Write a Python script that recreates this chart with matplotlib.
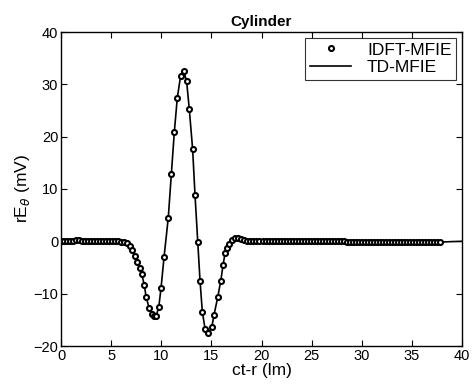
import matplotlib
matplotlib.use("Agg")
import matplotlib.pyplot as plt

plt.rcParams['font.family'] = ['Liberation Sans', 'DejaVu Sans']

# IDFT-MFIE samples
x_start = [0.0, 0.3, 0.6, 0.9, 1.2, 1.5, 1.8, 2.1, 2.4, 2.7, 3.0, 3.3, 3.6, 3.9,
           4.2, 4.5, 4.8, 5.1, 5.4, 5.7, 6.0, 6.3]
y_start = [0.05, 0.1, 0.1, 0.15, 0.15, 0.2, 0.2, 0.15, 0.15, 0.1, 0.1, 0.1, 0.1, 0.1,
           0.1, 0.05, 0.05, 0.05, 0.0, 0.0, -0.1, -0.2]

x_pulse = [6.6, 6.85, 7.1, 7.35, 7.62, 7.85, 8.05, 8.3, 8.5, 8.8, 9.05, 9.28, 9.48,
           9.75, 9.98, 10.28, 10.7, 11.0, 11.3, 11.6, 11.93, 12.23, 12.53, 12.8,
           13.13, 13.37, 13.64, 13.87, 14.1, 14.37, 14.7, 15.04, 15.27, 15.64,
           15.94, 16.17, 16.37, 16.6, 16.8, 17.1, 17.4, 17.7, 18.0, 18.3, 18.6, 18.9]
y_pulse = [-0.4, -0.9, -1.7, -2.8, -4.0, -5.0, -6.2, -8.3, -10.7, -12.8, -13.8, -14.2,
           -14.3, -12.6, -8.9, -3.0, 4.5, 12.8, 20.8, 27.4, 31.6, 32.6, 30.6, 25.2,
           17.6, 8.8, -0.1, -7.6, -13.5, -16.7, -17.5, -16.4, -14.0, -10.6,
           -7.5, -4.5, -2.2, -1.2, -0.6, 0.2, 0.6, 0.7, 0.5, 0.3, 0.15, 0.1]

x_tail = [19.2, 19.5, 19.8, 20.1, 20.4, 20.7, 21.0, 21.3, 21.6, 21.9, 22.2, 22.5,
          22.8, 23.1, 23.4, 23.7, 24.0, 24.3, 24.6, 24.9, 25.2, 25.5, 25.8, 26.1,
          26.4, 26.7, 27.0, 27.3, 27.6, 27.9, 28.2, 28.5, 28.8, 29.1, 29.4, 29.7,
          30.0, 30.3, 30.6, 30.9, 31.2, 31.5, 31.8, 32.1, 32.4, 32.7, 33.0, 33.3,
          33.6, 33.9, 34.2, 34.5, 34.8, 35.1, 35.4, 35.7, 36.0, 36.3, 36.6, 36.9,
          37.2, 37.5, 37.8]
y_tail = [0.05, 0.0, 0.0, 0.05, 0.05, 0.1, 0.1, 0.15, 0.15, 0.1, 0.1, 0.15,
          0.15, 0.1, 0.1, 0.1, 0.05, 0.05, 0.05, 0.05, 0.05, 0.1, 0.1, 0.05,
          0.05, 0.0, 0.0, 0.0, 0.0, 0.0, 0.0, -0.05, -0.05, -0.05, -0.05, -0.1,
          -0.1, -0.1, -0.1, -0.05, -0.05, -0.05, -0.1, -0.1, -0.1, -0.05, -0.05, -0.05,
          -0.1, -0.1, -0.1, -0.1, -0.05, -0.05, -0.05, -0.1, -0.1, -0.1, -0.15, -0.15,
          -0.15, -0.15, -0.15]

# TD-MFIE line continues to the axis end
x_line_end = [38.4, 39.0, 40.0]
y_line_end = [-0.1, -0.05, 0.0]

x_idft = x_start + x_pulse + x_tail
y_idft = y_start + y_pulse + y_tail
x_td = x_idft + x_line_end
y_td = y_idft + y_line_end

fig = plt.figure(figsize=(4.74, 3.89), dpi=100)
ax = fig.add_axes([61/474, 1 - 346/389, (462 - 61)/474, (346 - 32)/389])

ax.plot(x_idft, y_idft, linestyle='none', marker='o', markersize=3.6,
        markerfacecolor='white', markeredgecolor='black', markeredgewidth=1.5,
        label='IDFT-MFIE', zorder=3)
ax.plot(x_td, y_td, color='black', linewidth=1.2, label='TD-MFIE', zorder=2)

ax.set_xlim(0, 40)
ax.set_ylim(-20, 40)
ax.set_xticks([0, 5, 10, 15, 20, 25, 30, 35, 40])
ax.set_yticks([-20, -10, 0, 10, 20, 30, 40])
ax.tick_params(direction='in', top=True, right=True, length=4, width=0.8,
               labelsize=10.5, pad=2)
for s in ax.spines.values():
    s.set_linewidth(1.0)

ax.set_title('Cylinder', fontsize=11, fontweight='bold', pad=4)
ax.set_xlabel('ct-r (lm)', fontsize=12.5, labelpad=0)
ax.set_ylabel(r'rE$_\theta$ (mV)', fontsize=12.5, labelpad=1)

leg = ax.legend(loc='upper right', fontsize=12.5, frameon=True, fancybox=False,
                edgecolor='black', borderaxespad=0.35, handlelength=2.4,
                borderpad=0.25, labelspacing=0.15, handletextpad=0.9)
leg.get_frame().set_linewidth(0.8)

fig.savefig('out.png', dpi=100)
